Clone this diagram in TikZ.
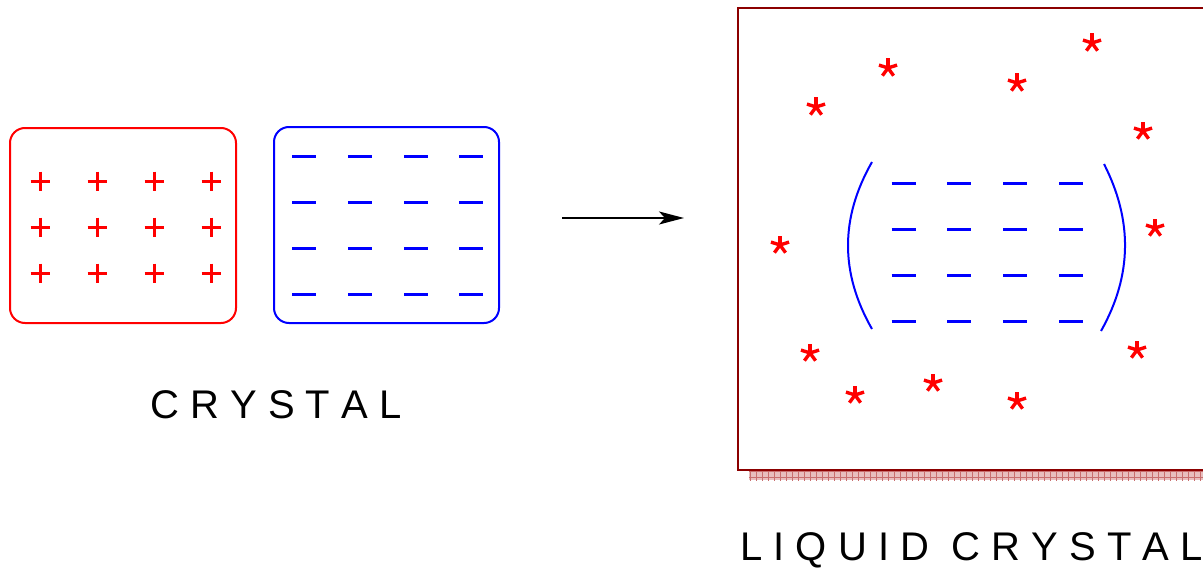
\documentclass[tikz,border=0pt]{standalone}
\usepackage{fontspec}
\setmainfont{Liberation Sans}
\usetikzlibrary{arrows.meta,patterns}
\definecolor{dred}{RGB}{140,0,0}
\definecolor{shadowred}{RGB}{232,190,190}
\definecolor{gridred}{RGB}{200,110,110}
\begin{document}
\begin{tikzpicture}[x=0.5pt,y=-0.5pt,
  redbox/.style={draw=red,line width=1pt,rounded corners=7.5pt,minimum width=113pt,minimum height=97.5pt,inner sep=0pt},
  bluebox/.style={draw=blue,line width=1pt,rounded corners=7.5pt,minimum width=112.5pt,minimum height=98pt,inner sep=0pt},
  plusmark/.style={draw=red,line width=1.5pt},
  barmark/.style={draw=blue,line width=1.5pt},
  bracket/.style={draw=blue,line width=1pt},
  label/.style={anchor=base west,inner sep=0pt,font=\fontsize{20}{24}\selectfont},
  astx/.pic={\foreach \a in {270,342,54,126,198} \draw[red,line width=1.7pt] (0,0) -- (\a:9.5);}
]
\useasboundingbox (0,0) rectangle (1203,567);
\clip (0,0) rectangle (1203,567);

% crystal boxes
\node[redbox] (plusbox) at (123,225.5) {};
\node[bluebox] (minusbox) at (386.5,225) {};
\foreach \x in {40,97,154,211}
  \foreach \y in {181,227,273}
    \draw[plusmark] (\x-9.5,\y) -- (\x+9.5,\y) (\x,\y-9.5) -- (\x,\y+9.5);
\foreach \x in {304,360,416,471}
  \foreach \y in {156,202,248,294}
    \draw[barmark] (\x-12,\y) -- (\x+12,\y);

\node[label] (crystal) at (150,418) {C R Y S T A L};

% arrow
\coordinate (a1) at (562,218);
\coordinate (a2) at (684,218);
\draw[line width=1pt,-{Stealth[length=12.5pt,width=6.5pt,inset=3pt]}] (a1) -- (a2);

% liquid crystal box
\fill[shadowred] (749,471.5) rectangle (1240,480);
\fill[pattern=grid,pattern color=gridred] (749,471.5) rectangle (1240,480);
\draw[dred,line width=1.25pt] (738,8) rectangle (1240,470);

\draw[bracket] (872,162) .. controls (840,218) and (840,273) .. (872,329);
\draw[bracket] (1104,164) .. controls (1132.5,220) and (1132.5,275) .. (1101,331);
\foreach \x in {903.5,959,1015,1071}
  \foreach \y in {183,229,275,321}
    \draw[barmark] (\x-12,\y) -- (\x+12,\y);

\foreach \p in {(816,107),(888,68),(1017,83),(1092,43),(1143,131),(1155,228),(780,245),(810,353),(855,395),(933,383),(1017,401),(1137,350)}
  \pic at \p {astx};

\node[label] (liquid) at (740,560) {L I Q U I D\ \ C R Y S T A L};
\end{tikzpicture}
\end{document}
